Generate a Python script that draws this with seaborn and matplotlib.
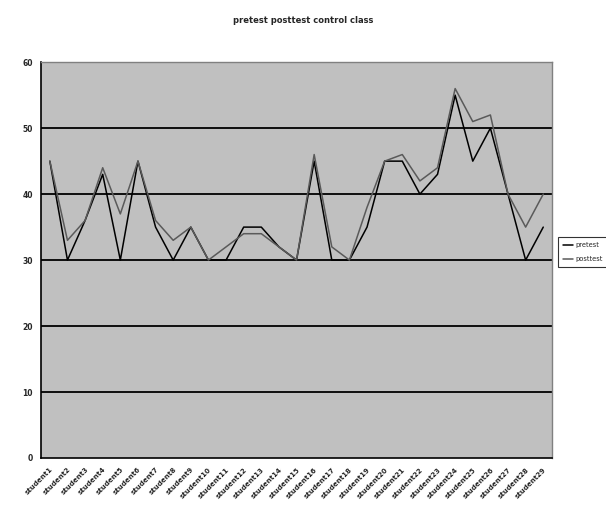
import matplotlib
matplotlib.use("Agg")
import matplotlib.pyplot as plt
import seaborn as sns
import pandas as pd

students = [f"student{i}" for i in range(1, 30)]
pretest = [45, 30, 36, 43, 30, 45, 35, 30, 35, 30, 30, 35, 35, 32, 30,
           45, 30, 30, 35, 45, 45, 40, 43, 55, 45, 50, 40, 30, 35]
posttest = [45, 33, 36, 44, 37, 45, 36, 33, 35, 30, 32, 34, 34, 32, 30,
            46, 32, 30, 38, 45, 46, 42, 44, 56, 51, 52, 40, 35, 40]
series_names = ["pretest", "posttest"]
series_colors = ["#000000", "#5a5a5a"]
title = "pretest posttest control class"
y_ticks = [0, 10, 20, 30, 40, 50, 60]

df = pd.DataFrame({
    "student": students * 2,
    "score": pretest + posttest,
    "test": [series_names[0]] * len(students) + [series_names[1]] * len(students),
})
df["pos"] = list(range(len(students))) * 2

sns.set_style("white")
fig = plt.figure(figsize=(6.06, 5.14), dpi=100)
ax = fig.add_axes([0.0677, 0.109, 0.8433, 0.770])
ax.set_facecolor("#c0c0c0")

sns.lineplot(data=df, x="pos", y="score", hue="test", hue_order=series_names,
             palette=series_colors, linewidth=1.1, ax=ax, legend=False)

ax.set_xlim(-0.5, len(students) - 0.5)
ax.set_ylim(0, 60)
ax.set_yticks(y_ticks)
ax.set_yticklabels([str(v) for v in y_ticks], fontsize=5.5, fontweight="bold")
ax.set_xticks(range(len(students)))
ax.set_xticklabels(students, rotation=45, ha="right", rotation_mode="anchor",
                   fontsize=5, fontweight="bold")
ax.set_xticks([i - 0.5 for i in range(len(students) + 1)], minor=True)
ax.tick_params(axis="x", which="major", length=0, pad=6)
ax.tick_params(axis="x", which="minor", length=4, width=1, direction="out")
ax.tick_params(axis="y", length=4, width=1, direction="out", pad=2)
ax.set_xlabel("")
ax.set_ylabel("")

for v in y_ticks[1:-1]:
    ax.axhline(v, color="black", linewidth=1.3, zorder=1)

for side in ["left", "bottom"]:
    ax.spines[side].set_color("black")
    ax.spines[side].set_linewidth(1.2)
for side in ["top", "right"]:
    ax.spines[side].set_color("#808080")
    ax.spines[side].set_linewidth(1)

fig.text(0.5, 0.96, title, ha="center", va="center", fontsize=6, fontweight="semibold")

handles = [plt.Line2D([0], [0], color=c, linewidth=1.1) for c in series_colors]
leg = fig.legend(handles, series_names, loc="upper left",
                 bbox_to_anchor=(0.921, 0.538), fontsize=4.8, frameon=True,
                 fancybox=False, edgecolor="black", handlelength=1.6,
                 handletextpad=0.3, borderpad=0.7, labelspacing=1.2,
                 borderaxespad=0)
leg.get_frame().set_linewidth(0.8)

fig.savefig("out.png", dpi=100)
